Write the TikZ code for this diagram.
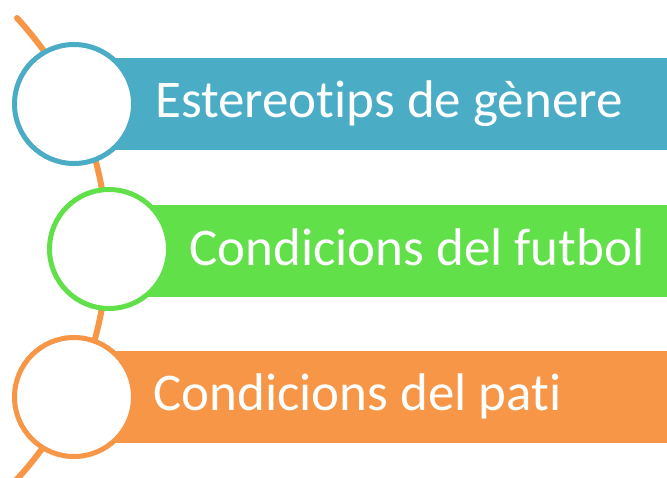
\documentclass[tikz,border=0pt]{standalone}
\usepackage{fontspec}
\setmainfont{Carlito}[Ligatures={NoCommon,NoRequired,NoContextual}]
\definecolor{cblue}{HTML}{4BACC6}
\definecolor{cgreen}{HTML}{62E04A}
\definecolor{corange}{HTML}{F79646}
\begin{document}
\begin{tikzpicture}[x=1pt,y=-1pt,
  bar/.style={draw=none,fill=#1,rectangle,inner sep=0pt,anchor=west,minimum height=92pt},
  ring/.style={circle,draw=#1,line width=5pt,fill=white,minimum size=119pt,inner sep=0pt},
  lbl/.style={text=white,font=\fontsize{53pt}{56pt}\selectfont,anchor=base west,inner sep=0pt}]
\clip (0,0) rectangle (667,477);
\fill[white] (0,0) rectangle (667,477);
\draw[corange,line width=6pt,line cap=round] (17,18) arc[start angle=-42.7,end angle=45,radius=340];
\node[bar=cblue,minimum width=593pt] (b1) at (74,104) {};
\node[bar=cgreen,minimum width=558pt] (b2) at (109,251) {};
\node[bar=corange,minimum width=593pt] (b3) at (74,397) {};
\node[ring=cblue] (c1) at (74,104) {};
\node[ring=cgreen] (c2) at (109,249) {};
\node[ring=corange] (c3) at (74,397) {};
\node[lbl] (t1) at (155,117) {Estereot\kern0pt ips de gènere};
\node[lbl] (t2) at (189,265) {Condicions del futbol};
\node[lbl] (t3) at (153,410) {Condicions del pat\kern0pt i};
\end{tikzpicture}
\end{document}
